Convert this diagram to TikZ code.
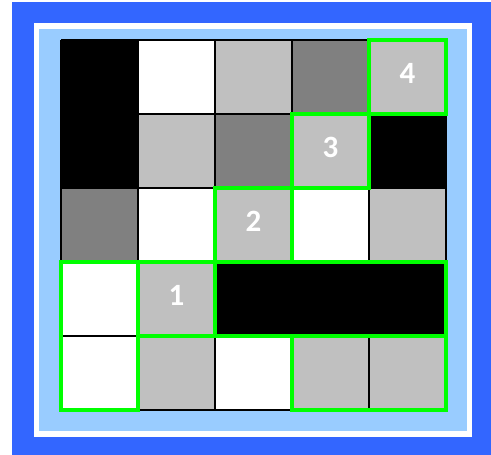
\documentclass[tikz,border=0pt]{standalone}
\usepackage{fontspec}
\setmainfont{Carlito}
\usetikzlibrary{positioning}
\definecolor{frameblue}{HTML}{3366FF}
\definecolor{paleblue}{HTML}{99CCFF}
\definecolor{cgreen}{HTML}{00FF00}
\definecolor{csilver}{HTML}{C0C0C0}
\definecolor{cgray}{HTML}{808080}

\begin{document}
\begin{tikzpicture}[
  x=1pt, y=-1pt,
  gridline/.style={draw=black, line width=1.2pt},
  hit/.style={draw=cgreen, line width=3.6pt},
  num/.style={font=\fontsize{31}{31}\selectfont\bfseries, text=white, yshift=4pt},
]

% ---- Frame ------------------------------------------------------------------
\useasboundingbox (0,0) rectangle (491,455);
\fill[frameblue] (12,2) rectangle (491,455);
\fill[white] (34,23) rectangle (472,437);
\fill[paleblue] (39,29) rectangle (467,431);

% ---- Board: 5x5 cells, column x, row y (top row 0) --------------------------
\begin{scope}[shift={(61,40)}, x=77pt, y=-74pt]
  % cell fills by shade
  \foreach \x/\y in {0/0,0/1,4/1,2/3,3/3,4/3}
    \fill[black] (\x,\y) rectangle +(1,1);
  \foreach \x/\y in {1/0,1/2,3/2,0/3,0/4,2/4}
    \fill[white] (\x,\y) rectangle +(1,1);
  \foreach \x/\y in {2/0,4/0,1/1,3/1,2/2,4/2,1/3,1/4,3/4,4/4}
    \fill[csilver] (\x,\y) rectangle +(1,1);
  \foreach \x/\y in {3/0,2/1,0/2}
    \fill[cgray] (\x,\y) rectangle +(1,1);

  % grid lines
  \foreach \i in {0,...,5} {
    \draw[gridline] (\i,0) -- (\i,5);
    \draw[gridline] (0,\i) -- (5,\i);
  }

  % green outlines
  \draw[hit] (0,3) rectangle (1,5);
  \draw[hit] (1,3) rectangle (2,4);
  \draw[hit] (2,3) rectangle (5,4);
  \draw[hit] (2,2) rectangle (3,3);
  \draw[hit] (3,1) rectangle (4,2);
  \draw[hit] (4,0) rectangle (5,1);
  \draw[hit] (3,4) rectangle (5,5);

  % step numbers
  \node[num] (n1) at (1.5,3.5) {1};
  \node[num] (n2) at (2.5,2.5) {2};
  \node[num] (n3) at (3.5,1.5) {3};
  \node[num] (n4) at (4.5,0.5) {4};
\end{scope}

\end{tikzpicture}
\end{document}
